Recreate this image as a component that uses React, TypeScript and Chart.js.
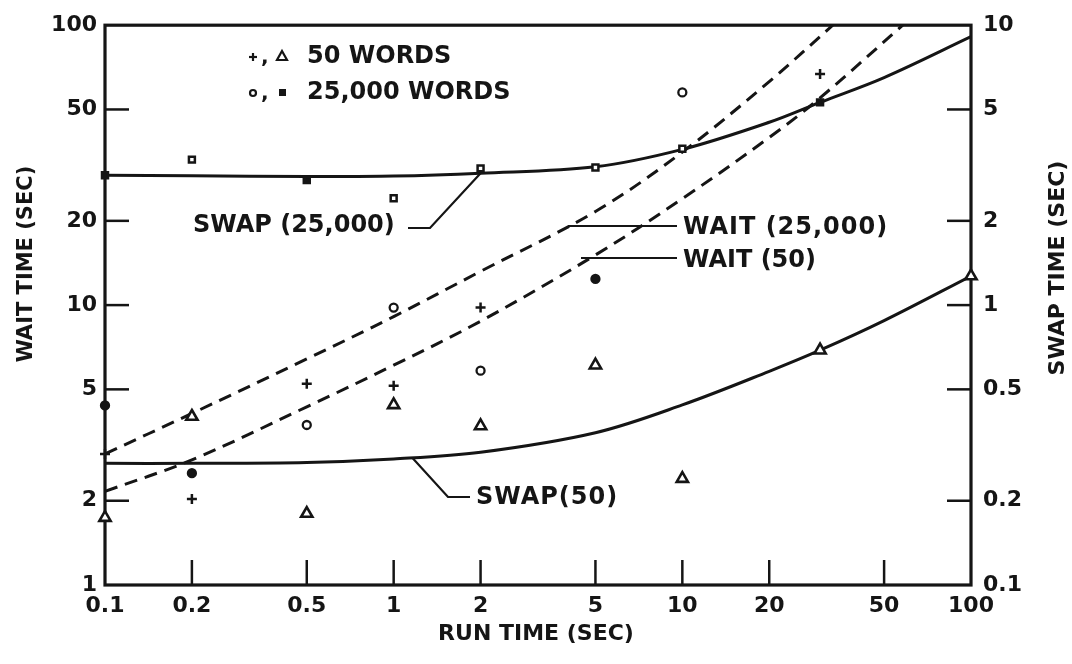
import React, { useEffect, useRef } from "react";
import { Chart, registerables } from "chart.js";

Chart.register(...registerables);

// ---- tick values ----
const xTicks = [0.1, 0.2, 0.5, 1, 2, 5, 10, 20, 50, 100];
const waitTicks = [1, 2, 5, 10, 20, 50, 100];
const swapTicks = [0.1, 0.2, 0.5, 1, 2, 5, 10];

// ---- fitted curves ----
const swapCurveRun = [0.1, 0.2, 0.5, 1, 2, 5, 10, 20, 30, 50, 100];
const swap25000Curve = [2.91, 2.9, 2.88, 2.89, 2.96, 3.12, 3.6, 4.5, 5.3, 6.5, 9.1];
const swap50Curve = [0.272, 0.272, 0.274, 0.282, 0.298, 0.35, 0.44, 0.58, 0.69, 0.88, 1.27];

const wait25000Run = [0.1, 0.2, 0.5, 1, 2, 5, 10, 20, 33.2];
const wait25000Curve = [2.94, 4.1, 6.42, 9.1, 13.2, 21.6, 35.2, 62.9, 100];
const wait50Run = [0.1, 0.2, 0.5, 1, 2, 5, 10, 20, 30, 58];
const wait50Curve = [2.16, 2.8, 4.33, 6.1, 8.76, 15.1, 24.0, 39.7, 55, 100];

// ---- measured points ----
const plusRun = [0.1, 0.2, 0.5, 1, 2, 30];
const plusWait = [2.94, 2.03, 5.24, 5.15, 9.8, 67];
const circleRun = [0.1, 0.2, 0.5, 1, 2, 5, 10];
const circleWait = [4.38, 2.51, 3.73, 9.8, 5.83, 12.4, 57.5];
const triangleRun = [0.1, 0.2, 0.5, 1, 2, 5, 10, 30, 100];
const triangleSwap = [0.174, 0.4, 0.18, 0.44, 0.37, 0.61, 0.24, 0.69, 1.27];
const squareRun = [0.1, 0.2, 0.5, 1, 2, 5, 10, 30];
const squareSwap = [2.91, 3.31, 2.8, 2.41, 3.08, 3.1, 3.62, 5.3];

const filledCircleIdx = [0, 1, 5];
const filledSquareIdx = [0, 2, 7];

const INK = "#151515";
const FAMILY = '"DejaVu Sans", "Liberation Sans", sans-serif';

const pts = (xs: number[], ys: number[]) => xs.map((x, i) => ({ x, y: ys[i] }));

const annotPlugin = {
  id: "annot",
  beforeDatasetsDraw(chart: any) {
    const { ctx, chartArea: a } = chart;
    const xs = chart.scales.x;
    const yl = chart.scales.y;
    const yr = chart.scales.y2;
    ctx.save();
    ctx.strokeStyle = INK;
    ctx.lineCap = "butt";
    ctx.lineWidth = 2.5;
    xTicks.slice(1, -1).forEach((v) => {
      const px = xs.getPixelForValue(v);
      ctx.beginPath();
      ctx.moveTo(px, a.bottom);
      ctx.lineTo(px, a.bottom - 25);
      ctx.stroke();
    });
    waitTicks.slice(1, -1).forEach((v) => {
      const py = yl.getPixelForValue(v);
      ctx.beginPath();
      ctx.moveTo(a.left, py);
      ctx.lineTo(a.left + 24, py);
      ctx.stroke();
    });
    swapTicks.slice(1, -1).forEach((v) => {
      const py = yr.getPixelForValue(v);
      ctx.beginPath();
      ctx.moveTo(a.right, py);
      ctx.lineTo(a.right - 24, py);
      ctx.stroke();
    });
    ctx.lineWidth = 3.2;
    ctx.strokeRect(a.left, a.top, a.right - a.left, a.bottom - a.top);
    ctx.restore();
  },
  afterDraw(chart: any) {
    const { ctx } = chart;
    const xs = chart.scales.x;
    const yr = chart.scales.y2;
    ctx.save();
    ctx.fillStyle = INK;
    ctx.strokeStyle = INK;
    ctx.textBaseline = "middle";

    const text = (s: string, x: number, y: number, size: number, align = "left", spacing = "0px") => {
      ctx.font = `bold ${size}px ${FAMILY}`;
      (ctx as any).letterSpacing = spacing;
      ctx.textAlign = align;
      ctx.fillText(s, x, y);
    };
    const poly = (p: number[][], w = 2.2) => {
      ctx.lineWidth = w;
      ctx.beginPath();
      p.forEach(([x, y], i) => (i ? ctx.lineTo(x, y) : ctx.moveTo(x, y)));
      ctx.stroke();
    };

    // axis titles
    text("RUN TIME (SEC)", 536, 634, 22, "center");
    ctx.save();
    ctx.translate(27, 264);
    ctx.rotate(-Math.PI / 2);
    text("WAIT TIME (SEC)", 0, 0, 21, "center");
    ctx.restore();
    ctx.save();
    ctx.translate(1058, 268);
    ctx.rotate(-Math.PI / 2);
    text("SWAP TIME (SEC)", 0, 0, 22, "center");
    ctx.restore();

    // legend
    poly([[249, 57], [257, 57]]);
    poly([[253, 53], [253, 61]]);
    text(",", 261, 58, 20);
    ctx.lineWidth = 2.2;
    ctx.beginPath();
    ctx.moveTo(282, 51);
    ctx.lineTo(287, 60);
    ctx.lineTo(277, 60);
    ctx.closePath();
    ctx.stroke();
    text("50 WORDS", 307, 57, 24);
    ctx.beginPath();
    ctx.arc(253, 93, 3, 0, Math.PI * 2);
    ctx.stroke();
    text(",", 261, 94, 20);
    ctx.fillRect(279, 89, 7, 7);
    text("25,000 WORDS", 307, 93, 24);

    // curve labels + leaders
    text("SWAP (25,000)", 193, 226, 24);
    poly([[408, 228], [430, 228], [xs.getPixelForValue(2), yr.getPixelForValue(2.96)]]);
    text("WAIT (25,000)", 683, 228, 24, "left", "1px");
    poly([[568, 226], [677, 226]]);
    text("WAIT (50)", 683, 261, 24);
    poly([[581, 258], [677, 258]]);
    text("SWAP(50)", 476, 498, 24, "left", "1px");
    poly([[xs.getPixelForValue(1.16), yr.getPixelForValue(0.285)], [448, 497], [470, 497]]);
    ctx.restore();
  },
};

export default function App() {
  const ref = useRef<HTMLCanvasElement>(null);
  useEffect(() => {
    document.body.style.margin = "0";
    const canvas = ref.current!;
    const tickFont = { family: FAMILY, size: 22, weight: "bold" as const };
    const fixTicks = (vals: number[]) => (s: any) => {
      s.ticks = vals.map((v) => ({ value: v }));
    };
    const fillFor = (n: number, idx: number[]) =>
      Array.from({ length: n }, (_, i) => (idx.includes(i) ? INK : "#ffffff"));
    const curve = (label: string, data: any[], axis: string, dashed: boolean) => ({
      label,
      data,
      yAxisID: axis,
      borderColor: INK,
      borderWidth: 3,
      borderDash: dashed ? [13, 8] : [],
      pointRadius: 0,
      tension: 0.35,
    });

    const chart = new Chart(canvas, {
      type: "line",
      data: {
        datasets: [
          {
            label: "+",
            data: pts(plusRun, plusWait),
            yAxisID: "y",
            showLine: false,
            clip: false,
            pointStyle: "cross",
            pointRadius: 5,
            pointBorderWidth: 2.5,
            pointBorderColor: INK,
          },
          {
            label: "o",
            data: pts(circleRun, circleWait),
            yAxisID: "y",
            showLine: false,
            clip: false,
            pointStyle: "circle",
            pointRadius: 4,
            pointBorderWidth: 2.3,
            pointBorderColor: INK,
            pointBackgroundColor: fillFor(circleRun.length, filledCircleIdx),
          },
          {
            label: "tri",
            data: pts(triangleRun, triangleSwap),
            yAxisID: "y2",
            showLine: false,
            clip: false,
            pointStyle: "triangle",
            pointRadius: 6.5,
            pointBorderWidth: 2.6,
            pointBorderColor: INK,
            pointBackgroundColor: "#ffffff",
          },
          {
            label: "sq",
            data: pts(squareRun, squareSwap),
            yAxisID: "y2",
            showLine: false,
            clip: false,
            pointStyle: "rect",
            pointRadius: 4.2,
            pointBorderWidth: 2.5,
            pointBorderColor: INK,
            pointBackgroundColor: fillFor(squareRun.length, filledSquareIdx),
          },
          curve("SWAP (25,000)", pts(swapCurveRun, swap25000Curve), "y2", false),
          curve("SWAP (50)", pts(swapCurveRun, swap50Curve), "y2", false),
          curve("WAIT (25,000)", pts(wait25000Run, wait25000Curve), "y", true),
          curve("WAIT (50)", pts(wait50Run, wait50Curve), "y", true),
        ],
      },
      options: {
        responsive: false,
        animation: false,
        devicePixelRatio: 1,
        layout: { padding: { top: 18, left: 0, right: 0, bottom: 0 } },
        plugins: { legend: { display: false }, tooltip: { enabled: false } },
        scales: {
          x: {
            type: "logarithmic",
            min: 0.1,
            max: 100,
            afterBuildTicks: fixTicks(xTicks),
            afterFit: (s: any) => {
              s.height = 79;
            },
            grid: { display: false, drawTicks: false },
            border: { display: false },
            ticks: {
              autoSkip: false,
              maxRotation: 0,
              padding: 8,
              color: INK,
              font: tickFont,
              callback: (v: any) => String(v),
            },
          },
          y: {
            type: "logarithmic",
            position: "left",
            min: 1,
            max: 100,
            afterBuildTicks: fixTicks(waitTicks),
            afterFit: (s: any) => {
              s.width = 105;
            },
            grid: { display: false, drawTicks: false },
            border: { display: false },
            ticks: {
              autoSkip: false,
              padding: 8,
              color: INK,
              font: tickFont,
              callback: (v: any) => String(v),
            },
          },
          y2: {
            type: "logarithmic",
            position: "right",
            min: 0.1,
            max: 10,
            afterBuildTicks: fixTicks(swapTicks),
            afterFit: (s: any) => {
              s.width = 101;
            },
            grid: { display: false, drawTicks: false },
            border: { display: false },
            ticks: {
              autoSkip: false,
              padding: 12,
              color: INK,
              font: tickFont,
              callback: (v: any) => String(v),
            },
          },
        },
      } as any,
      plugins: [annotPlugin],
    });
    return () => chart.destroy();
  }, []);

  return (
    <div style={{ position: "absolute", left: 0, top: 0, width: 1072, height: 664, background: "#fff" }}>
      <canvas ref={ref} width={1072} height={664} style={{ display: "block" }} />
    </div>
  );
}
